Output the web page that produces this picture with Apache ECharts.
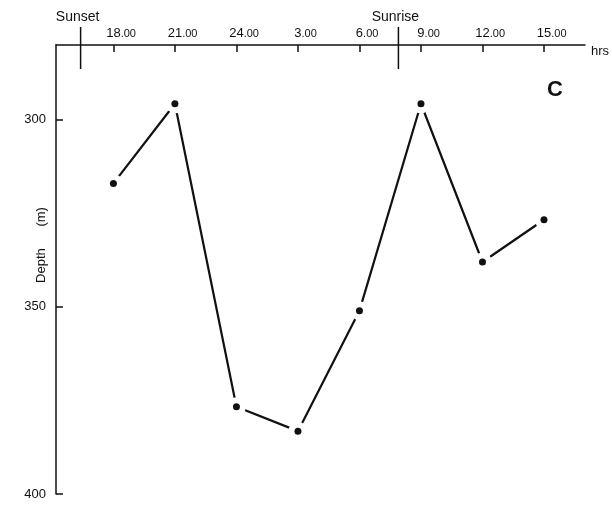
<!DOCTYPE html>
<html>
<head>
<meta charset="utf-8">
<script src="https://cdn.jsdelivr.net/npm/echarts@6/dist/echarts.min.js"></script>
<style>
  html, body { margin: 0; padding: 0; background: #fff; }
  #chart { width: 612px; height: 505px; }
</style>
</head>
<body>
<div id="chart"></div>
<script>
// Sampling times, counted in hours from noon of day 1 (27 = 3.00 next day)
const hours = [18, 21, 24, 27, 30, 33, 36, 39];
// Mean depth at each sampling time (m)
const depths = [317, 295.7, 376.7, 383.2, 351, 295.7, 338, 326.7];
// Tick marks on the time axis and the depth axis
const hourTicks = [18, 21, 24, 27, 30, 33, 36, 39];
const depthTicks = [300, 350, 400];
// Sunset and sunrise markers
const eventNames = ['Sunset', 'Sunrise'];
const eventHours = [16.4, 31.9];

const FONT = '"Liberation Sans", Arial, Helvetica, sans-serif';
const INK = '#111';

const points = hours.map((h, i) => [h, depths[i]]);
const events = eventHours.map((h) => [h]);

const chart = echarts.init(document.getElementById('chart'), null, { renderer: 'canvas' });

chart.setOption({
  backgroundColor: '#fff',
  animation: false,
  grid: { left: 56, top: 45, right: 27, bottom: 11, containLabel: false, outerBoundsMode: 'none' },
  xAxis: {
    type: 'value',
    position: 'top',
    min: 15.2,
    max: 41,
    name: 'hrs',
    nameLocation: 'end',
    nameGap: 6,
    nameTextStyle: { fontFamily: FONT, fontSize: 13, color: INK, verticalAlign: 'top' },
    axisLine: { show: true, onZero: false, lineStyle: { color: INK, width: 1.5 } },
    axisTick: { show: true, inside: true, length: 7, customValues: hourTicks, lineStyle: { color: INK, width: 1.5 } },
    axisLabel: {
      show: true,
      customValues: hourTicks,
      margin: 5,
      formatter: function (v) {
        const h = v > 24 ? v - 24 : v;
        return '{pad|.00}{h|' + h + '}{m|.00}';
      },
      rich: {
        pad: { fontFamily: FONT, fontSize: 11, color: 'rgba(0,0,0,0)' },
        h: { fontFamily: FONT, fontSize: 13, color: INK },
        m: { fontFamily: FONT, fontSize: 11, color: INK }
      }
    },
    splitLine: { show: false }
  },
  yAxis: {
    type: 'value',
    inverse: true,
    min: 280,
    max: 400,
    axisLine: { show: true, onZero: false, lineStyle: { color: INK, width: 1.5 } },
    axisTick: { show: true, inside: true, length: 7, customValues: depthTicks, lineStyle: { color: INK, width: 1.5 } },
    axisLabel: {
      show: true,
      customValues: depthTicks,
      margin: 10,
      fontFamily: FONT,
      fontSize: 13,
      color: INK
    },
    splitLine: { show: false }
  },
  graphic: [
    {
      // depth axis title
      type: 'text',
      x: 41,
      y: 245,
      rotation: Math.PI / 2,
      style: {
        text: 'Depth      (m)',
        fontFamily: FONT,
        fontSize: 13,
        fill: INK,
        align: 'center',
        verticalAlign: 'middle'
      }
    },
    {
      type: 'text',
      left: 547,
      top: 79,
      style: { text: 'C', fontFamily: FONT, fontSize: 22, fontWeight: 'bold', fill: INK }
    }
  ],
  series: [
    {
      type: 'line',
      data: points,
      showSymbol: false,
      symbol: 'none',
      lineStyle: { color: INK, width: 2.2 },
      z: 2
    },
    {
      // white halo around each sample so the line stops short of the dot
      type: 'scatter',
      data: points,
      symbol: 'circle',
      symbolSize: 19,
      itemStyle: { color: '#fff', opacity: 1 },
      silent: true,
      z: 3
    },
    {
      type: 'scatter',
      data: points,
      symbol: 'circle',
      symbolSize: 7,
      itemStyle: { color: INK, opacity: 1 },
      z: 4
    },
    {
      type: 'custom',
      data: events,
      clip: false,
      z: 5,
      renderItem: function (params, api) {
        const x = api.coord([api.value(0), 280])[0];
        const axisY = params.coordSys.y;
        return {
          type: 'group',
          children: [
            {
              type: 'line',
              shape: { x1: x, y1: axisY - 18, x2: x, y2: axisY + 24 },
              style: { stroke: INK, lineWidth: 1.5 }
            },
            {
              type: 'text',
              x: x - 3,
              y: axisY - 28,
              style: {
                text: eventNames[params.dataIndex],
                fontFamily: FONT,
                fontSize: 14,
                fill: INK,
                align: 'center',
                verticalAlign: 'middle'
              }
            }
          ]
        };
      }
    }
  ]
});
</script>
</body>
</html>
